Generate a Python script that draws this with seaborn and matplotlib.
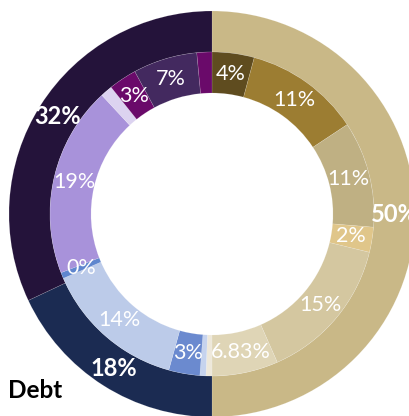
import matplotlib
matplotlib.use("Agg")
import matplotlib.pyplot as plt
import seaborn as sns
import numpy as np

sns.set_theme(style="white")
plt.rcParams['font.family'] = ['Lato', 'DejaVu Sans']

# Outer ring (groups)
outer_values = [50, 18, 32]
outer_labels = ["50%", "18%", "32%"]
outer_colors = ["#C9B887", "#1B2B52", "#24133A"]

# Inner ring (sub-categories), clockwise from top
inner_values = [4.2, 11.5, 10.6, 2.5, 14.6, 6.6, 0.6,
                0.6, 3.1, 14.2, 0.6,
                19.0, 1.2, 2.8, 6.4, 1.5]
inner_labels = ["4%", "11%", "11%", "2%", "15%", "6.83%", "",
                "", "3%", "14%", "0%",
                "19%", "", "3%", "7%", ""]
inner_colors = ["#5F4C1F", "#9C7D32", "#BFB083", "#E0C68A", "#D4C7A0", "#DFD5B6", "#EEE8DA",
                "#C6D3EE", "#6B8ACF", "#BCCBE9", "#5F86CE",
                "#A892DA", "#DCD3F0", "#6A0A6A", "#43295F", "#6A0A6A"]

title = "Debt"

W, H = 409, 416
fig = plt.figure(figsize=(W / 100, H / 100), dpi=100)
ax = fig.add_axes([0, 0, 1, 1])

R = 203.0
cx, cy = 212.0, 214.0
ring_w = 41 / R
inner_r = 162 / R

wedges_o, _ = ax.pie(outer_values, radius=1.0, startangle=90, counterclock=False,
                     colors=outer_colors,
                     wedgeprops=dict(width=ring_w, edgecolor=(1, 1, 1, 0.2), linewidth=0.4))
wedges_i, _ = ax.pie(inner_values, radius=inner_r, startangle=90, counterclock=False,
                     colors=inner_colors,
                     wedgeprops=dict(width=ring_w, edgecolor=(1, 1, 1, 0.2), linewidth=0.4))

def place(wedges, labels, r, weight, size):
    for w, lab in zip(wedges, labels):
        if not lab:
            continue
        ang = np.deg2rad((w.theta1 + w.theta2) / 2)
        ax.text(r * np.cos(ang), r * np.sin(ang), lab, ha="center", va="center",
                color="white", fontsize=size, fontweight=weight)

place(wedges_o, outer_labels, 182.5 / R, "bold", 17)
place(wedges_i, inner_labels, 141 / R, "normal", 15.5)

ax.set_xlim(-cx / R, (W - cx) / R)
ax.set_ylim(-(H - cy) / R, cy / R)
ax.set_aspect("equal")
ax.axis("off")

fig.text(8 / W, 1 - 391 / H, title, ha="left", va="center", fontsize=17.5,
         fontweight="bold", color="black")

fig.savefig("out.png", dpi=100)
